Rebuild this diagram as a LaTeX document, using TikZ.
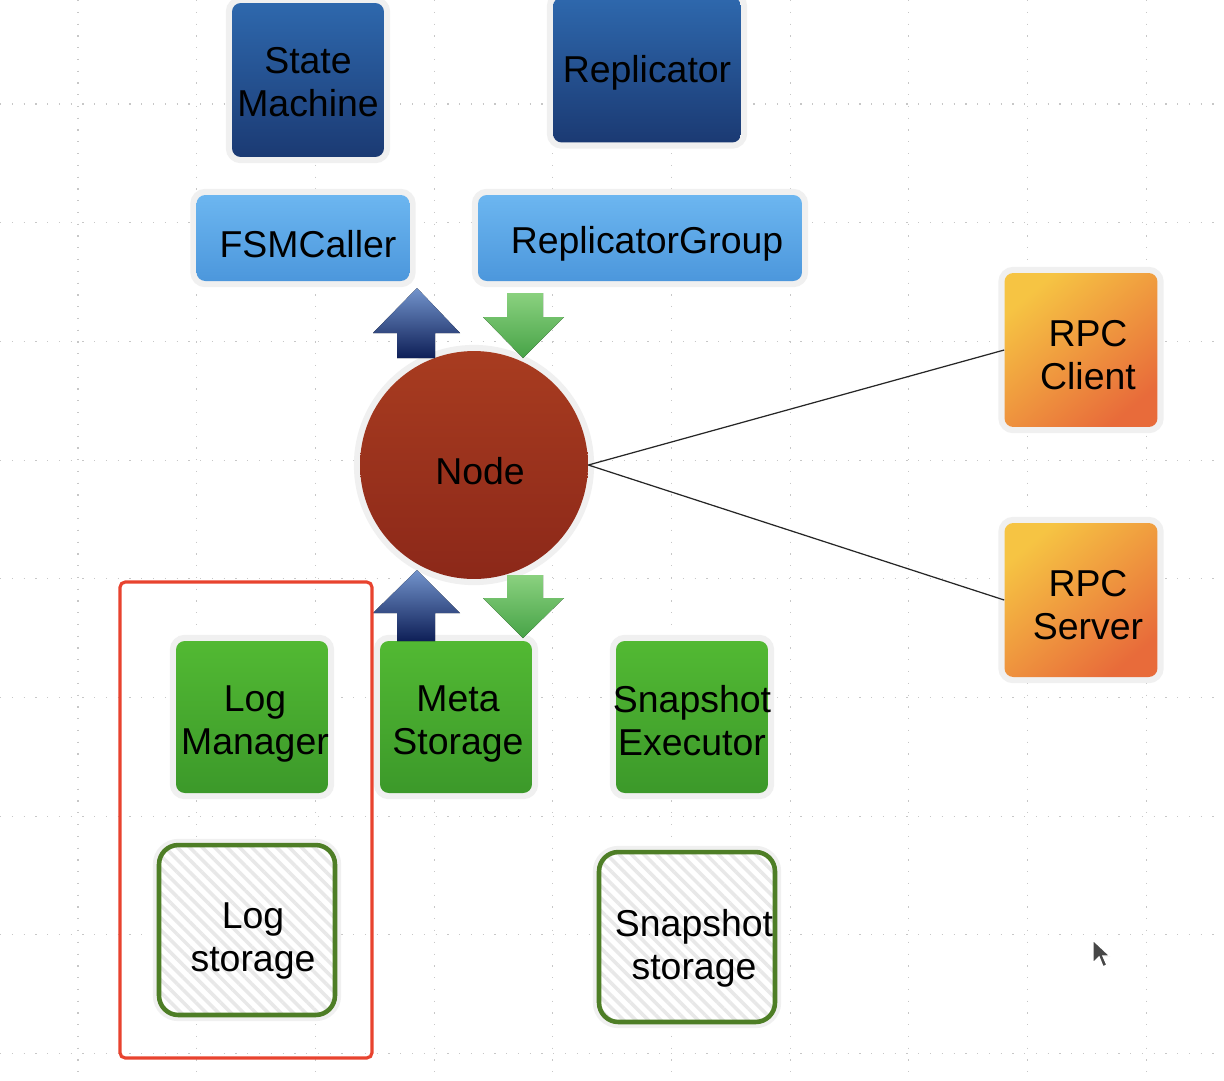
\documentclass[tikz,border=0pt]{standalone}
\usepackage{fontspec}
\setmainfont{Liberation Sans}
\usetikzlibrary{positioning,patterns.meta}
\definecolor{smtop}{HTML}{2E68AD}
\definecolor{smbot}{HTML}{1B3A73}
\definecolor{lbtop}{HTML}{6CB6F0}
\definecolor{lbbot}{HTML}{4C97DC}
\definecolor{ndtop}{HTML}{A83C20}
\definecolor{ndbot}{HTML}{8C2819}
\definecolor{ortop}{HTML}{F6C443}
\definecolor{orbot}{HTML}{E86B3A}
\definecolor{grtop}{HTML}{52B933}
\definecolor{grbot}{HTML}{3C992A}
\definecolor{stedge}{HTML}{4E7E26}
\definecolor{frame}{HTML}{E8432F}
\definecolor{uptop}{HTML}{7394CC}
\definecolor{upbot}{HTML}{0E1F57}
\definecolor{dntop}{HTML}{8AD17F}
\definecolor{dnbot}{HTML}{47A347}

\begin{document}
\begin{tikzpicture}[x=0.02cm, y=-0.02cm,
  halo/.style={preaction={draw=black!6, line width=7pt}},
  caption/.style={align=center, inner sep=0pt, font=\fontsize{21.3}{24.4}\selectfont},
  comp/.style={halo, rounded corners=5pt, inner sep=0pt},
  dark/.style={comp, top color=smtop, bottom color=smbot},
  light/.style={comp, top color=lbtop, bottom color=lbbot},
  rpc/.style={comp, shading=axis, top color=ortop, bottom color=orbot, shading angle=40,
    minimum width=3.06cm, minimum height=3.08cm},
  mod/.style={comp, top color=grtop, bottom color=grbot, minimum width=3.04cm, minimum height=3.04cm},
  store/.style={comp, rounded corners=11pt, preaction={fill=white},
    preaction={pattern={Lines[angle=-45,distance=5pt,line width=2pt]}, pattern color=black!9},
    draw=stedge, line width=2.6pt, minimum width=3.52cm, minimum height=3.4cm},
  uparr/.style={top color=uptop, bottom color=upbot},
  dnarr/.style={top color=dntop, bottom color=dnbot},
  link/.style={draw=black!85, line width=0.7pt}
]
\useasboundingbox[fill=white] (0,0) rectangle (1224,1080);

% background grid
\foreach \gx in {78,196.7,...,1224}
  \draw[black!22, line width=0.6pt, dash pattern=on 0.7pt off 6pt] (\gx,0) -- (\gx,1080);
\foreach \gy in {104,222.7,...,1080}
  \draw[black!22, line width=0.6pt, dash pattern=on 0.7pt off 6pt] (0,\gy) -- (1224,\gy);

% upper components
\node[dark, minimum width=3.04cm, minimum height=3.08cm,
  label={[caption, yshift=-0.04cm]center:State\\Machine}] (sm) at (308,80) {};
\node[dark, minimum width=3.76cm, minimum height=2.9cm,
  label={[caption, yshift=-0.06cm]center:Replicator}] (repl) at (647,70) {};
\node[light, minimum width=4.26cm, minimum height=1.72cm,
  label={[caption, xshift=0.1cm, yshift=-0.12cm]center:FSMCaller}] (fsm) at (303,238) {};
\node[light, minimum width=6.48cm, minimum height=1.72cm,
  label={[caption, xshift=0.14cm, yshift=-0.12cm]center:ReplicatorGroup}] (rgroup) at (640,238) {};

% node
\node[circle, halo, top color=ndtop, bottom color=ndbot, minimum size=4.56cm, inner sep=0pt,
  label={[caption, xshift=0.12cm, yshift=-0.12cm]center:Node}] (node) at (474,465) {};

% rpc
\node[rpc, label={[caption, xshift=0.14cm, yshift=-0.1cm]center:RPC\\Client}] (client) at (1081,350) {};
\node[rpc, label={[caption, xshift=0.14cm, yshift=-0.1cm]center:RPC\\Server}] (server) at (1081,600) {};
\draw[link] (node.east) -- (client.west);
\draw[link] (node.east) -- (server.west);

% lower components
\node[mod, label={[caption, xshift=0.06cm, yshift=-0.14cm]center:Log\\Manager}] (logmgr) at (252,717) {};
\node[mod, label={[caption, xshift=0.04cm, yshift=-0.14cm]center:Meta\\Storage}] (meta) at (456,717) {};
\node[mod, label={[caption, yshift=-0.08cm]center:Snapshot\\Executor}] (snapexec) at (692,717) {};
\node[store, label={[caption, xshift=0.12cm, yshift=-0.22cm]center:Log\\storage}] (logst) at (247,930) {};
\node[store, label={[caption, xshift=0.14cm, yshift=-0.22cm]center:Snapshot\\storage}] (snapst) at (687,937) {};

% block arrows
\fill[uparr] (417,288) -- (460,333) -- (435,333) -- (435,358) -- (397,358) -- (397,333) -- (373,333) -- cycle;
\fill[dnarr] (507,293) -- (543,293) -- (543,317) -- (564,317) -- (523,358) -- (483,317) -- (507,317) -- cycle;
\fill[uparr] (417,570) -- (460,613) -- (435,613) -- (435,641) -- (397,641) -- (397,613) -- (373,613) -- cycle;
\fill[dnarr] (507,575) -- (543,575) -- (543,598) -- (564,598) -- (523,638) -- (483,598) -- (507,598) -- cycle;

% log frame
\draw[frame, line width=1.8pt, rounded corners=3pt] (120,582) rectangle (372,1058);

% pointer
\filldraw[fill=black!72, draw=white, line width=0.8pt]
  (1093,940) -- (1093,963) -- (1099,957) -- (1103,967) -- (1107,965) -- (1103,956) -- (1110,956) -- cycle;
\end{tikzpicture}
\end{document}
